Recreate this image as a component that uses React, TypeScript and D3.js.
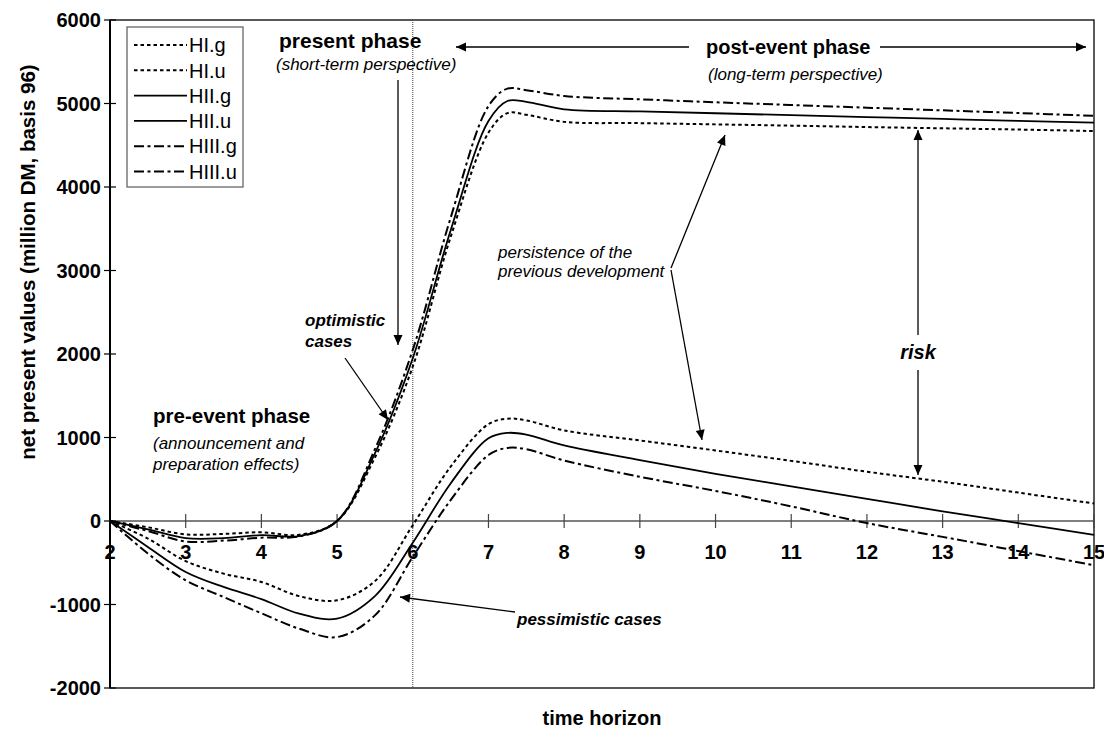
import React from 'react';
import * as d3 from 'd3';

// ---- data ----
const X_VALUES = [2, 2.5, 3, 3.5, 4, 4.5, 5, 5.5, 6, 6.5, 7, 7.25, 7.5, 8, 9, 10, 11, 12, 13, 14, 15];
const HI_G = [0, -75, -160, -155, -135, -165, 0, 760, 1850, 3400, 4650, 4885, 4865, 4780, 4765, 4750, 4735, 4718, 4703, 4688, 4670];
const HI_U = [0, -210, -480, -630, -730, -900, -950, -720, -50, 650, 1160, 1225, 1205, 1085, 965, 845, 720, 590, 470, 340, 210];
const HII_G = [0, -100, -205, -205, -170, -180, 0, 810, 1950, 3480, 4790, 5030, 5020, 4930, 4905, 4883, 4860, 4838, 4815, 4792, 4770];
const HII_U = [0, -310, -610, -790, -935, -1110, -1170, -900, -260, 450, 990, 1055, 1035, 905, 730, 565, 415, 265, 115, -25, -165];
const HIII_G = [0, -120, -245, -235, -200, -185, 0, 860, 2050, 3630, 4970, 5178, 5160, 5090, 5050, 5015, 4982, 4950, 4918, 4886, 4852];
const HIII_U = [0, -390, -710, -910, -1105, -1290, -1390, -1130, -430, 250, 790, 875, 860, 725, 530, 360, 175, -25, -190, -360, -530];

const SERIES_NAMES = ['HI.g', 'HI.u', 'HII.g', 'HII.u', 'HIII.g', 'HIII.u'];
const SERIES_VALUES = [HI_G, HI_U, HII_G, HII_U, HIII_G, HIII_U];
const SERIES_STYLES = ['dot', 'dot', 'solid', 'solid', 'dashdot', 'dashdot'];

const X_TICKS = [2, 3, 4, 5, 6, 7, 8, 9, 10, 11, 12, 13, 14, 15];
const Y_TICKS = [-2000, -1000, 0, 1000, 2000, 3000, 4000, 5000, 6000];
const EVENT_X = 6;

const W = 1104;
const H = 735;
const PLOT = { left: 110, right: 1094, top: 20, bottom: 688 };

const STYLE: Record<string, { dash: string; width: number }> = {
  dot: { dash: '3.5,3', width: 2 },
  solid: { dash: 'none', width: 1.8 },
  dashdot: { dash: '10,3.5,3,3.5', width: 2 },
};

const FONT = '"Liberation Sans", Arial, Helvetica, sans-serif';

export default function App() {
  const x = d3.scaleLinear().domain([2, 15]).range([PLOT.left, PLOT.right]);
  const y = d3.scaleLinear().domain([-2000, 6000]).range([PLOT.bottom, PLOT.top]);
  const line = d3
    .line<[number, number]>()
    .x((d) => x(d[0]))
    .y((d) => y(d[1]))
    .curve(d3.curveCatmullRom.alpha(0.5));

  const ax = (px: number) => x.invert(px);
  const ay = (py: number) => y.invert(py);
  const P = (px: number, py: number) => [x(ax(px)), y(ay(py))];

  const arrow = (x1: number, y1: number, x2: number, y2: number, key: string) => {
    const a = P(x1, y1);
    const b = P(x2, y2);
    return (
      <line key={key} x1={a[0]} y1={a[1]} x2={b[0]} y2={b[1]} stroke="#000" strokeWidth={1.3} markerEnd="url(#ah)" />
    );
  };

  const y0 = y(0);

  return (
    <svg
      width={W}
      height={H}
      style={{ position: 'absolute', left: 0, top: 0, background: '#fff' }}
      fontFamily={FONT}
    >
      <defs>
        <marker
          id="ah"
          viewBox="0 0 10 10"
          refX="10"
          refY="5"
          markerWidth="11"
          markerHeight="10"
          markerUnits="userSpaceOnUse"
          orient="auto"
        >
          <path d="M0,0.5 L10,5 L0,9.5 z" fill="#000" />
        </marker>
      </defs>
      <rect x={0} y={0} width={W} height={H} fill="#fff" />

      {/* plot frame */}
      <rect
        x={PLOT.left}
        y={PLOT.top}
        width={PLOT.right - PLOT.left}
        height={PLOT.bottom - PLOT.top}
        fill="none"
        stroke="#000"
        strokeWidth={1.3}
      />

      {/* vertical event line */}
      <line
        x1={x(EVENT_X)}
        x2={x(EVENT_X)}
        y1={PLOT.top}
        y2={PLOT.bottom}
        stroke="#444"
        strokeWidth={1}
        strokeDasharray="1,1"
      />

      {/* zero line (x axis) */}
      <line x1={PLOT.left} x2={PLOT.right} y1={y0} y2={y0} stroke="#555" strokeWidth={1.5} />
      {X_TICKS.map((t) => (
        <line key={'xt' + t} x1={x(t)} x2={x(t)} y1={y0 - 7} y2={y0 + 7} stroke="#444" strokeWidth={1.2} />
      ))}
      {X_TICKS.map((t) => (
        <text
          key={'xl' + t}
          x={x(t)}
          y={y0 + 38}
          textAnchor="middle"
          fontWeight="bold"
          fontSize={20}
          fill="#000"
        >
          {t}
        </text>
      ))}

      {/* y axis */}
      <line x1={PLOT.left} x2={PLOT.left} y1={PLOT.top} y2={PLOT.bottom} stroke="#000" strokeWidth={2} />
      {Y_TICKS.map((t) => (
        <line key={'yt' + t} x1={PLOT.left - 6} x2={PLOT.left + 6} y1={y(t)} y2={y(t)} stroke="#000" strokeWidth={1.2} />
      ))}
      {Y_TICKS.map((t) => (
        <text
          key={'yl' + t}
          x={PLOT.left - 9}
          y={y(t)}
          dy="0.36em"
          textAnchor="end"
          fontWeight="bold"
          fontSize={20}
          fill="#000"
        >
          {t}
        </text>
      ))}

      {/* axis titles */}
      <text
        transform={`translate(35, ${(PLOT.top + PLOT.bottom) / 2 - 92}) rotate(-90)`}
        textAnchor="middle"
        fontWeight="bold"
        fontSize={20.5}
      >
        net present values (million DM, basis 96)
      </text>
      <text x={602} y={725} textAnchor="middle" fontWeight="bold" fontSize={20}>
        time horizon
      </text>

      {/* series */}
      {SERIES_NAMES.map((name, i) => {
        const st = STYLE[SERIES_STYLES[i]];
        const pts = X_VALUES.map((xv, j) => [xv, SERIES_VALUES[i][j]] as [number, number]);
        return (
          <path
            key={name}
            d={line(pts) || ''}
            fill="none"
            stroke="#000"
            strokeWidth={st.width}
            strokeDasharray={st.dash}
          />
        );
      })}

      {/* legend */}
      <rect x={127} y={27} width={116} height={160} fill="#fff" stroke="#666" strokeWidth={1.3} />
      {SERIES_NAMES.map((name, i) => {
        const st = STYLE[SERIES_STYLES[i]];
        const ry = 45 + i * 25.3;
        return (
          <g key={'lg' + name}>
            <line x1={134} x2={187} y1={ry} y2={ry} stroke="#000" strokeWidth={st.width} strokeDasharray={st.dash} />
            <text x={189} y={ry} dy="0.36em" fontSize={20} fill="#000">
              {name}
            </text>
          </g>
        );
      })}

      {/* annotations */}
      <text x={279} y={48} fontWeight="bold" fontSize={21}>
        present phase
      </text>
      <text x={276} y={70} fontStyle="italic" fontSize={17}>
        (short-term perspective)
      </text>
      {arrow(398, 80, 398, 345, 'a1')}

      <text x={706} y={54} fontWeight="bold" fontSize={20}>
        post-event phase
      </text>
      <text x={708} y={80} fontStyle="italic" fontSize={17}>
        (long-term perspective)
      </text>
      {arrow(689, 47, 456, 47, 'a2')}
      {arrow(880, 47, 1086, 47, 'a3')}

      <text x={305} y={326} fontWeight="bold" fontStyle="italic" fontSize={17}>
        optimistic
      </text>
      <text x={305} y={347} fontWeight="bold" fontStyle="italic" fontSize={17}>
        cases
      </text>
      {arrow(345, 358, 388, 420, 'a4')}

      <text x={153} y={423} fontWeight="bold" fontSize={20.5}>
        pre-event phase
      </text>
      <text x={153} y={449} fontStyle="italic" fontSize={17}>
        (announcement and
      </text>
      <text x={153} y={470} fontStyle="italic" fontSize={17}>
        preparation effects)
      </text>

      <text x={517} y={625} fontWeight="bold" fontStyle="italic" fontSize={17}>
        pessimistic cases
      </text>
      {arrow(515, 612, 400, 597, 'a5')}

      <text x={498} y={258} fontStyle="italic" fontSize={17}>
        persistence of the
      </text>
      <text x={498} y={277} fontStyle="italic" fontSize={17}>
        previous development
      </text>
      {arrow(671, 268, 725, 135, 'a6')}
      {arrow(671, 270, 702, 440, 'a7')}

      <text x={918} y={359} textAnchor="middle" fontWeight="bold" fontStyle="italic" fontSize={20}>
        risk
      </text>
      {arrow(918, 335, 918, 130, 'a8')}
      {arrow(918, 370, 918, 475, 'a9')}
    </svg>
  );
}
